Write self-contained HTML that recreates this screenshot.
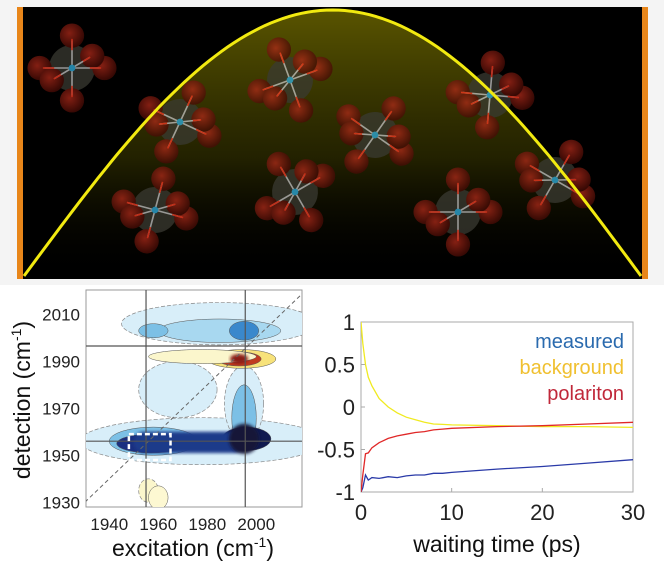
<!DOCTYPE html>
<html><head><meta charset="utf-8">
<style>
html,body{margin:0;padding:0;background:#fff;}
body{width:664px;height:562px;overflow:hidden;position:relative;font-family:"Liberation Sans",Arial,sans-serif;}
svg{position:absolute;left:0;top:0;}
</style></head>
<body>
<svg id="fig" width="664" height="562" viewBox="0 0 664 562" xmlns="http://www.w3.org/2000/svg">
<defs>
 <linearGradient id="cav" x1="0" y1="0" x2="0" y2="1">
  <stop offset="0" stop-color="#6a6400" stop-opacity="0.85"/>
  <stop offset="0.55" stop-color="#3a3800" stop-opacity="0.6"/>
  <stop offset="1" stop-color="#000" stop-opacity="0"/>
 </linearGradient>
 <filter id="blur1"><feGaussianBlur stdDeviation="1.5"/></filter>
 <clipPath id="cclip"><rect x="86" y="290" width="216" height="217"/></clipPath>
 <clipPath id="lclip"><rect x="361" y="322" width="272" height="170"/></clipPath>
 <radialGradient id="atomR" cx="0.4" cy="0.4" r="0.6"><stop offset="0" stop-color="#b02a1a"/><stop offset="1" stop-color="#4a0c06"/></radialGradient>
</defs>
<rect x="0" y="0" width="664" height="285" fill="#f4f4f4"/>
<rect x="17" y="7" width="631" height="272" fill="#000"/>
<rect x="17" y="7" width="6" height="272" fill="#e8861a"/>
<rect x="642" y="7" width="6" height="272" fill="#e8861a"/>
<g id="cavity"></g>
<g id="mols"></g>
<g id="contour"></g>
<g id="lines"></g>
</svg>
<script>
var NS="http://www.w3.org/2000/svg";
function mk(tag,attrs,parent){var e=document.createElementNS(NS,tag);for(var k in attrs)e.setAttribute(k,attrs[k]);parent.appendChild(e);return e;}

// ---- cavity mode ----
var cav=document.getElementById('cavity');
var pts=[];for(var i=0;i<=100;i++){var x=24+i*(617/100);var y=276-266*Math.sin(Math.PI*i/100);pts.push(x.toFixed(1)+','+y.toFixed(1));}
var fill=mk('polygon',{points:pts.join(' ')+' 641,278 24,278',fill:'url(#cav)'},cav);



// ---- molecules ----
var molX=[72,180,290,375,490,155,295,458,555];
var molY=[68,122,80,135,95,210,192,212,180];
var molA=[0,25,-20,35,5,15,-30,0,30];
var mols=document.getElementById('mols');
molX.forEach(function(mx,i){
 var g=mk('g',{transform:'translate('+mx+','+molY[i]+') rotate('+molA[i]+') scale(1.35)',opacity:0.75},mols);
 
 
 mk('circle',{cx:0,cy:0,r:17,fill:'#3a3a32'},g);
 var dirs=[[0,-24],[0,24],[-24,0],[24,0],[15,-9],[-15,9]];
 dirs.forEach(function(d){mk('circle',{cx:d[0],cy:d[1],r:9,fill:'url(#atomR)'},g);});
 dirs.forEach(function(d){mk('line',{x1:0,y1:0,x2:d[0]*0.85,y2:d[1]*0.85,stroke:'#c8c8c8','stroke-width':1.2},g);
  mk('line',{x1:d[0]*0.55,y1:d[1]*0.55,x2:d[0]*0.9,y2:d[1]*0.9,stroke:'#ff3a20','stroke-width':1.2},g);});
 mk('circle',{cx:0,cy:0,r:2.5,fill:'#2fb0e0'},g);
});
var cl=mk('polyline',{points:pts.join(' '),fill:'none',stroke:'#f2ea10','stroke-width':3},cav.parentNode);



// ---- 2D IR contour ----
var exTicks=[1940,1960,1980,2000];
var detTicks=[1930,1950,1970,1990,2010];
var crossEx=[1955,1995.5];
var crossDet=[1956,1996.5];
var bgEx=[1985,1978,1968,1995,1956];
var bgDet=[2006,1956,1978,1972,1935];
var bgWx=[40,50,16,8,4];
var bgWy=[9,10,12,16,5];
var peakEx=[1985,1958,1995,1994,1993,1978,1995,1957,1996,1960,1958];
var peakDet=[2003,1956,1966,1991,1991,1992,2003,1955,1957,1932,2003];
var peakWx=[25,18,5,14,9,22,6,14,10,4,6];
var peakWy=[5,6,14,4,3,3,4,4,5,5,3];
var peakCol=['#a8d8f0','#7cc0e6','#7cc0e6','#f7e27a','#c03a20','#fbf6cc','#3a88cc','#1a2f80','#101a50','#fdf8d2','#7cc0e6'];
var cg=document.getElementById('contour');
var bg=mk('rect',{x:86,y:290,width:216,height:217,fill:'#fff',stroke:'#999','stroke-width':1},cg);


function sx(v){return 86+(v-1930.5)*2.45;}
function sy(v){return 507-(v-1928)*2.35;}
var inner=mk('g',{'clip-path':'url(#cclip)'},cg);
bgEx.forEach(function(e,i){var el=mk('ellipse',{cx:sx(e),cy:sy(bgDet[i]),rx:bgWx[i]*2.45,ry:bgWy[i]*2.35,fill:(i==4?'#fbf6cc':'#d8eef9'),stroke:'#888','stroke-dasharray':'4 2','stroke-width':0.7},inner);
 
 });
peakEx.forEach(function(e,i){
 var el=mk('ellipse',{cx:sx(e),cy:sy(peakDet[i]),rx:peakWx[i]*2.45,ry:peakWy[i]*2.35,fill:peakCol[i],stroke:'#555','stroke-width':0.5},inner);
 
 
});
var band=mk('rect',{x:sx(1950),y:sy(1960),width:(1995-1950)*2.45,height:9*2.35,rx:10,fill:'#1e3a8a',filter:'url(#blur1)'},inner);


var dk=mk('circle',{cx:sx(1995),cy:sy(1957),r:15,fill:'#141838',filter:'url(#blur1)'},inner);


var rk=mk('ellipse',{cx:sx(1993),cy:sy(1991),rx:9,ry:5,fill:'#8a1a18',filter:'url(#blur1)'},inner);


var diag=mk('line',{x1:sx(1928),y1:sy(1928),x2:sx(2022),y2:sy(2022),stroke:'#666','stroke-width':1,'stroke-dasharray':'4 3'},inner);


crossEx.forEach(function(v){var l=mk('line',{x1:sx(v),y1:290,x2:sx(v),y2:507,stroke:'#555','stroke-width':1.2},inner);
 
 });
crossDet.forEach(function(v){var l=mk('line',{x1:86,y1:sy(v),x2:302,y2:sy(v),stroke:'#555','stroke-width':1.2},inner);
 
 });
var box=mk('rect',{x:sx(1948),y:sy(1959),width:(1965-1948)*2.45,height:(1959-1948)*2.35,fill:'none',stroke:'#fff','stroke-width':2.5,'stroke-dasharray':'5 3'},inner);


exTicks.forEach(function(v){var t=mk('text',{x:sx(v),y:530,'font-size':17,'text-anchor':'middle',fill:'#222'},cg);t.textContent=v;
 
 });
detTicks.forEach(function(v){var t=mk('text',{x:80,y:sy(v)+6,'font-size':17,'text-anchor':'end',fill:'#222'},cg);t.textContent=v;
 
 });
var xt=mk('text',{x:193,y:556,'font-size':23,'text-anchor':'middle',fill:'#111'},cg);
xt.innerHTML='excitation (cm<tspan font-size="14" dy="-9">-1</tspan><tspan dy="9">)</tspan>';


var yt=mk('text',{x:0,y:0,'font-size':23,'text-anchor':'middle',fill:'#111',transform:'translate(30,400) rotate(-90)'},cg);
yt.innerHTML='detection (cm<tspan font-size="14" dy="-9">-1</tspan><tspan dy="9">)</tspan>';



// ---- kinetics chart ----
var times=[0,0.2,0.5,0.8,1.2,2,3,4,5,6,7,8,9,10,15,20,25,30];
var background=[1,0.75,0.5,0.35,0.25,0.1,0.0,-0.07,-0.12,-0.15,-0.18,-0.2,-0.205,-0.21,-0.22,-0.23,-0.23,-0.24];
var polariton=[-1,-0.8,-0.55,-0.54,-0.48,-0.42,-0.37,-0.34,-0.32,-0.3,-0.29,-0.27,-0.26,-0.25,-0.23,-0.22,-0.2,-0.18];
var measured=[-1,-0.95,-0.8,-0.86,-0.83,-0.84,-0.82,-0.83,-0.81,-0.8,-0.8,-0.78,-0.78,-0.77,-0.73,-0.7,-0.66,-0.62];
var lxTicks=[0,10,20,30];
var lyTicks=[-1,-0.5,0,0.5,1];
var seriesNames=['measured','background','polariton'];
var seriesCols=['#2a6aae','#f0c030','#c0283a'];
var lineCols=['#2a3aa8','#f0ea20','#e02828'];
var lg=document.getElementById('lines');
function lx(v){return 361+v/30*272;}
function ly(v){return 492-(v+1)/2*170;}
var pa=mk('rect',{x:361,y:322,width:272,height:170,fill:'#fff',stroke:'#aaa','stroke-width':1},lg);


lyTicks.forEach(function(v){var t=mk('line',{x1:361,y1:ly(v),x2:365,y2:ly(v),stroke:'#aaa'},lg);
 
 
 var tt=mk('text',{x:355,y:ly(v)+8,'font-size':22,'text-anchor':'end',fill:'#222'},lg);tt.textContent=v;
 
 });
lxTicks.forEach(function(v){var t=mk('line',{x1:lx(v),y1:492,x2:lx(v),y2:488,stroke:'#aaa'},lg);
 
 
 var tt=mk('text',{x:lx(v),y:520,'font-size':22,'text-anchor':'middle',fill:'#222'},lg);tt.textContent=v;
 
 });
var lc=mk('g',{'clip-path':'url(#lclip)'},lg);
[measured,background,polariton].forEach(function(s,k){
 var p=times.map(function(t,i){return lx(t).toFixed(1)+','+ly(s[i]).toFixed(1);}).join(' ');
 var pl=mk('polyline',{points:p,fill:'none',stroke:lineCols[k],'stroke-width':1.3},lc);
 
 
});
seriesNames.forEach(function(n,k){var t=mk('text',{x:624,y:348+k*26,'font-size':20,'text-anchor':'end',fill:seriesCols[k]},lg);t.textContent=n;
 
 });
var wt=mk('text',{x:497,y:552,'font-size':23,'text-anchor':'middle',fill:'#111'},lg);wt.textContent='waiting time (ps)';


</script>
</body></html>
